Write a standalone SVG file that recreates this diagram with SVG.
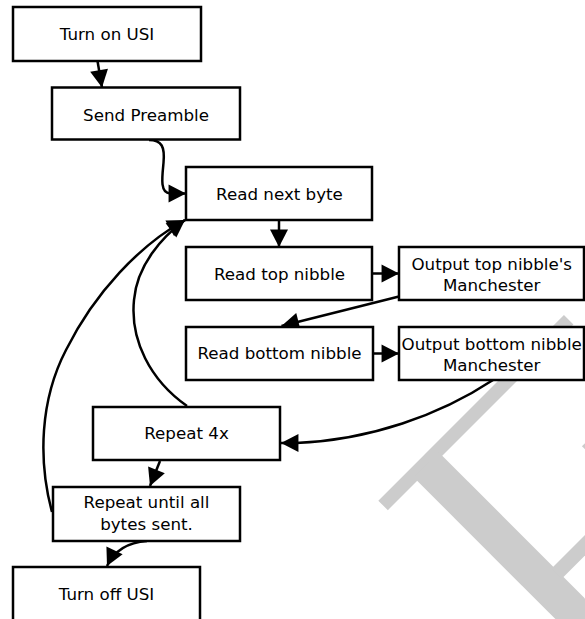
<svg xmlns="http://www.w3.org/2000/svg" width="585" height="619" viewBox="0 0 585 619">
<style>
.box{fill:#fff;stroke:#000;stroke-width:2.5}
.t{font-family:"DejaVu Sans","Liberation Sans",sans-serif;font-size:16.7px;text-anchor:middle;fill:#000}
.c{fill:none;stroke:#000;stroke-width:2.5;marker-end:url(#ah)}
.wm{fill:#cccccc}
</style>
<defs>
<marker id="ah" markerUnits="userSpaceOnUse" markerWidth="18" markerHeight="18" refX="15.5" refY="8" orient="auto" viewBox="0 0 16 16" overflow="visible">
<path d="M0,0 L15.5,8 L0,16 Z" fill="#000"/>
</marker>
</defs>
<rect width="585" height="619" fill="#fff"/>
<g id="watermark" transform="rotate(-45)">
<rect class="wm" x="-86.5" y="621.5" width="262.5" height="13.5"/>
<rect class="wm" x="-45" y="630" width="35.5" height="300"/>
<rect class="wm" x="-12" y="792" width="162" height="14.5"/>
<rect class="wm" x="96" y="727" width="44" height="173"/>
</g>
<g id="connectors">
<path class="c" d="M97.5,61 L102,87.5"/>
<path class="c" d="M149,140 C162,140 165,147 163.5,163 C162,178 160,193 170,193.5 L186,193.5"/>
<path class="c" d="M279,220 L279,247"/>
<path class="c" d="M372,273.5 L399,273.5"/>
<path class="c" d="M399,296.5 L281.5,326"/>
<path class="c" d="M373,353.5 L399,353.5"/>
<path class="c" d="M493,380 C440,415 370,440 296,443 L281,443"/>
<path class="c" d="M187,406 C150,380 130,340 134,300 C137,265 162,237 185,220"/>
<path class="c" d="M52,512 C38,460 40,400 66,350 C95,292 140,245 185,220"/>
<path class="c" d="M160,461 L150,486"/>
<path class="c" d="M147,541 Q118,543 107,566"/>
</g>
<g id="n1"><rect class="box" x="13" y="7" width="188" height="54"/><text class="t" x="107" y="40">Turn on USI</text></g>
<g id="n2"><rect class="box" x="52" y="87.5" width="188" height="52"/><text class="t" x="146" y="120.5">Send Preamble</text></g>
<g id="n3"><rect class="box" x="186" y="167" width="186" height="53"/><text class="t" x="279.5" y="200">Read next byte</text></g>
<g id="n4"><rect class="box" x="186" y="247" width="186" height="53"/><text class="t" x="279.5" y="279.5">Read top nibble</text></g>
<g id="n5"><rect class="box" x="399" y="247" width="185" height="53"/><text class="t" x="491.7" y="270">Output top nibble's</text><text class="t" x="491.7" y="291">Manchester</text></g>
<g id="n6"><rect class="box" x="186" y="327" width="187" height="53"/><text class="t" x="279.5" y="359">Read bottom nibble</text></g>
<g id="n7"><rect class="box" x="399" y="327" width="185" height="53"/><text class="t" x="491.7" y="349.5">Output bottom nibble</text><text class="t" x="491.7" y="370.5">Manchester</text></g>
<g id="n8"><rect class="box" x="93" y="407" width="187" height="53"/><text class="t" x="186.5" y="439">Repeat 4x</text></g>
<g id="n9"><rect class="box" x="53" y="487" width="187" height="54"/><text class="t" x="146.5" y="508">Repeat until all</text><text class="t" x="146.5" y="529.5">bytes sent.</text></g>
<g id="n10"><rect class="box" x="13" y="567" width="187" height="60"/><text class="t" x="106.5" y="599.5">Turn off USI</text></g>
</svg>
